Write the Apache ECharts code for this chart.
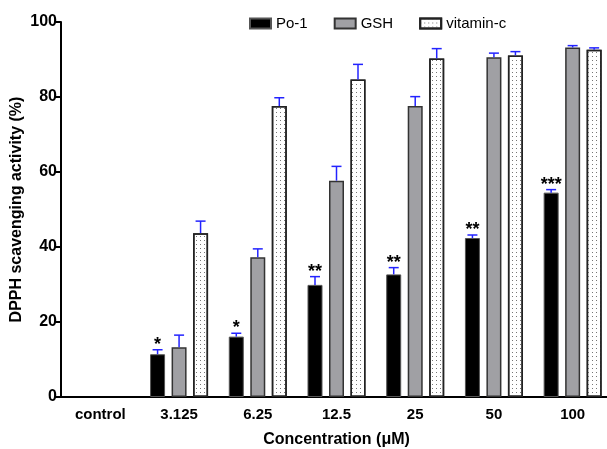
<!DOCTYPE html>
<html>
<head>
<meta charset="utf-8">
<script src="https://cdn.jsdelivr.net/npm/echarts@6/dist/echarts.min.js"></script>
<style>
  html, body { margin: 0; padding: 0; background: #fff; }
  #chart { width: 607px; height: 449px; }
</style>
</head>
<body>
<div id="chart"></div>
<script>
// categories and values
var categories = ['control', '3.125', '6.25', '12.5', '25', '50', '100']
var po1 = [null, 11.4, 16.1, 29.9, 32.7, 42.4, 54.5]
var po1Err = [null, 1.2, 0.9, 2.2, 1.8, 0.8, 0.8]
var gsh = [null, 13.3, 37.3, 57.7, 77.6, 90.6, 93.2]
var gshErr = [null, 3.2, 2.2, 3.8, 2.5, 1.1, 0.5]
var vitc = [null, 43.7, 77.6, 84.7, 90.3, 91.1, 92.6]
var vitcErr = [null, 3.2, 2.2, 4.0, 2.6, 1.0, 0.5]
var stars = ['', '*', '*', '**', '**', '**', '***']

var barW = 15
var barStep = 21.5 // centre to centre of bars in a group

var myChart = echarts.init(document.getElementById('chart'))

// error bars (upper half only) + significance marks, drawn at each bar's centre
function errSeries(name, vals, errs, idx, marks) {
  var data = []
  for (var i = 0; i < vals.length; i++) {
    if (vals[i] == null) continue
    data.push([i, vals[i], vals[i] + errs[i], marks ? marks[i] : ''])
  }
  return {
    type: 'custom',
    name: name + '-err',
    z: 5,
    data: data,
    renderItem: function (params, api) {
      var base = api.coord([api.value(0), api.value(1)])
      var top = api.coord([api.value(0), api.value(2)])
      var x = base[0] + (idx - 1) * barStep
      var children = [
        { type: 'line', shape: { x1: x, y1: base[1], x2: x, y2: top[1] }, style: { stroke: '#2323ff', lineWidth: 1.5 } },
        { type: 'line', shape: { x1: x - 5, y1: top[1], x2: x + 5, y2: top[1] }, style: { stroke: '#2323ff', lineWidth: 1.5 } }
      ]
      var mark = api.value(3)
      if (mark) {
        children.push({
          type: 'text',
          style: {
            text: mark, x: x, y: top[1] + 4, align: 'center', verticalAlign: 'bottom',
            fill: '#000', font: 'bold 18px "Liberation Sans", Arial'
          }
        })
      }
      return { type: 'group', children: children }
    }
  }
}

var option = {
  animation: false,
  backgroundColor: '#fff',
  textStyle: { fontFamily: '"Liberation Sans", Arial, sans-serif' },
  legend: {
    top: 11,
    left: 244,
    icon: 'rect',
    itemWidth: 21,
    itemHeight: 10,
    itemGap: 26,
    textStyle: { fontSize: 15, color: '#000' },
    data: ['Po-1', 'GSH', 'vitamin-c']
  },
  grid: { left: 61, top: 22, bottom: 52, right: -5, containLabel: false, outerBoundsMode: 'none' },
  xAxis: {
    type: 'category',
    data: categories,
    name: 'Concentration (μM)',
    nameLocation: 'middle',
    nameGap: 35,
    nameTextStyle: { fontSize: 16, fontWeight: 'bold', color: '#000' },
    axisLine: { lineStyle: { color: '#000', width: 2 } },
    axisTick: { alignWithLabel: true, length: 5, lineStyle: { color: '#000', width: 2 } },
    axisLabel: { fontSize: 15, fontWeight: 'bold', color: '#000', margin: 10 }
  },
  yAxis: {
    type: 'value',
    min: 0,
    max: 100,
    interval: 20,
    name: 'DPPH scavenging activity (%)',
    nameLocation: 'middle',
    nameGap: 36,
    nameMoveOverlap: false,
    nameTextStyle: { fontSize: 16, fontWeight: 'bold', color: '#000' },
    axisLine: { show: true, lineStyle: { color: '#000', width: 2 } },
    axisTick: { show: true, length: 5, lineStyle: { color: '#000', width: 2 } },
    axisLabel: { fontSize: 16, fontWeight: 'bold', color: '#000', margin: 4 },
    splitLine: { show: false }
  },
  series: [
    {
      name: 'Po-1',
      type: 'bar',
      barWidth: barW,
      barGap: ((barStep - barW) / barW * 100) + '%',
      data: po1,
      itemStyle: { color: '#000', borderColor: '#555', borderWidth: 1 }
    },
    {
      name: 'GSH',
      type: 'bar',
      barWidth: barW,
      data: gsh,
      itemStyle: { color: '#a0a0a4', borderColor: '#333', borderWidth: 1.5 }
    },
    {
      name: 'vitamin-c',
      type: 'bar',
      barWidth: barW,
      data: vitc,
      itemStyle: {
        color: '#fff',
        borderColor: '#222',
        borderWidth: 1.5,
        decal: {
          symbol: 'rect',
          symbolSize: 1,
          color: '#777',
          dashArrayX: [1, 3],
          dashArrayY: [1, 3],
          rotation: 0
        }
      }
    },
    errSeries('Po-1', po1, po1Err, 0, stars),
    errSeries('GSH', gsh, gshErr, 1),
    errSeries('vitamin-c', vitc, vitcErr, 2)
  ]
}
myChart.setOption(option)
</script>
</body>
</html>
